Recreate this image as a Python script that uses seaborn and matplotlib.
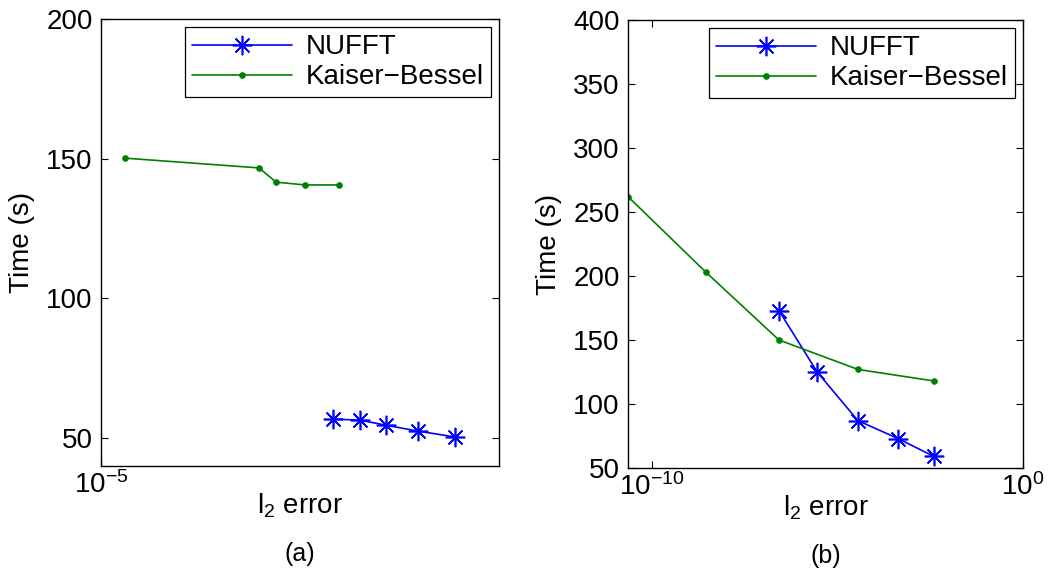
import numpy as np
import pandas as pd
import seaborn as sns
from matplotlib import pyplot as plt

# Panel (a) values
a_nufft_err = [10 ** -4.417, 10 ** -4.349, 10 ** -4.284, 10 ** -4.204, 10 ** -4.111]
a_nufft_time = [56.8, 56.4, 54.6, 52.5, 50.4]
a_kb_err = [10 ** -4.94, 10 ** -4.603, 10 ** -4.56, 10 ** -4.487, 10 ** -4.402]
a_kb_time = [150.2, 146.7, 141.6, 140.6, 140.6]

# Panel (b)
b_nufft_err = [10 ** -6.58, 10 ** -5.55, 10 ** -4.45, 10 ** -3.37, 10 ** -2.40]
b_nufft_time = [173, 125, 87, 73, 59]
b_kb_err = [10 ** -10.65, 10 ** -8.55, 10 ** -6.58, 10 ** -4.45, 10 ** -2.40]
b_kb_time = [262, 203, 150, 127, 118]

sns.set_style('ticks')
plt.rcParams['font.family'] = ['Liberation Sans', 'DejaVu Sans']
plt.rcParams['mathtext.fontset'] = 'custom'
plt.rcParams['mathtext.rm'] = 'Liberation Sans'
plt.rcParams['mathtext.it'] = 'Liberation Sans'
for key in ['text.color', 'axes.labelcolor', 'xtick.color', 'ytick.color']:
    plt.rcParams[key] = 'black'

blue = (0, 0, 1)
green = (0, 0.5, 0)
asterisk = (8, 2, 0)

fig = plt.figure(figsize=(10.5, 5.75), dpi=100)
ax_a = fig.add_axes([101 / 1050, 1 - 466 / 575, 398 / 1050, 447 / 575])
ax_b = fig.add_axes([628 / 1050, 1 - 468 / 575, 395 / 1050, 448 / 575])

panels = [
    (ax_a, a_nufft_err, a_nufft_time, a_kb_err, a_kb_time, '(a)'),
    (ax_b, b_nufft_err, b_nufft_time, b_kb_err, b_kb_time, '(b)'),
]

for ax, n_x, n_y, k_x, k_y, tag in panels:
    df_n = pd.DataFrame({'err': n_x, 'time': n_y})
    df_k = pd.DataFrame({'err': k_x, 'time': k_y})
    sns.lineplot(data=df_n, x='err', y='time', ax=ax, color=blue, lw=1.2,
                 marker=asterisk, ms=14, mec=blue, mew=1.2, label='NUFFT', sort=False)
    sns.lineplot(data=df_k, x='err', y='time', ax=ax, color=green, lw=1.2,
                 marker='o', ms=4, mec=green, mfc=green, label='Kaiser\u2212Bessel', sort=False)
    ax.set_xscale('log')
    ax.set_xlabel(r'l$_2$ error', fontsize=20, labelpad=-6)
    ax.set_ylabel('Time (s)', fontsize=20, labelpad=8)
    ax.text(0.5, -0.17, tag, transform=ax.transAxes, ha='center', va='top', fontsize=18)
    ax.tick_params(axis='both', which='major', direction='in', top=True, right=True,
                   labelsize=20, length=5, width=0.8, pad=6)
    ax.tick_params(axis='x', which='major', pad=4)
    ax.tick_params(axis='x', which='minor', bottom=False, top=False)
    for s in ax.spines.values():
        s.set_linewidth(1.0)
        s.set_color('black')
    leg = ax.legend(loc='upper right', fontsize=20, frameon=True, fancybox=False,
                    framealpha=1, edgecolor='black', handlelength=3.6,
                    borderaxespad=0.3, borderpad=0.25, labelspacing=0.15, handletextpad=0.5)
    leg.get_frame().set_linewidth(0.9)

ax_a.set_xlim(1e-5, 1e-4)
ax_a.set_xticks([1e-5])
ax_a.set_xticklabels([r'$10^{-5}$'])
ax_a.set_ylim(40, 200)
ax_a.set_yticks([50, 100, 150, 200])

ax_b.set_xlim(10 ** -10.65, 1)
ax_b.set_xticks([1e-10, 1])
ax_b.set_xticklabels([r'$10^{-10}$', r'$10^{0}$'])
ax_b.set_ylim(50, 400)
ax_b.set_yticks(np.arange(50, 401, 50))

fig.savefig('out.png', dpi=100)
